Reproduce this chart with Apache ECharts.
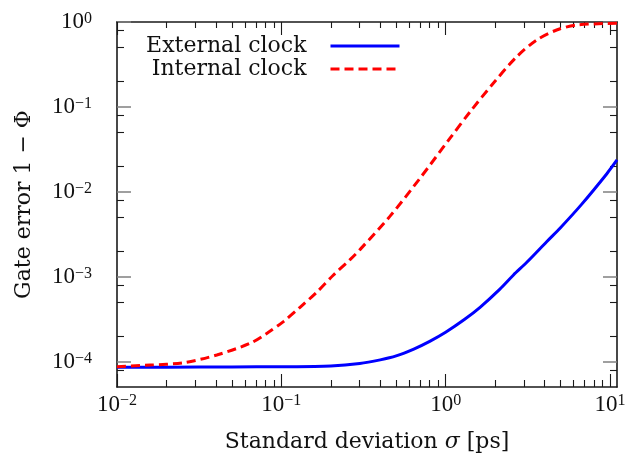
<!DOCTYPE html>
<html>
<head>
<meta charset="utf-8">
<script src="https://cdn.jsdelivr.net/npm/echarts@6/dist/echarts.min.js"></script>
<style>
html,body{margin:0;padding:0;background:#fff;}
#chart{width:636px;height:456px;}
</style>
</head>
<body>
<div id="chart"></div>
<script>
// [sigma in ps, gate error 1 - Phi]
var externalClock = [
    [0.01, 8.7e-5], [0.02, 8.7e-5], [0.05, 8.75e-5], [0.1, 8.8e-5], [0.2, 9.0e-5],
    [0.3, 9.6e-5], [0.4, 1.06e-4], [0.5, 1.18e-4], [0.64, 1.42e-4], [0.8, 1.75e-4],
    [1.0, 2.24e-4], [1.3, 3.16e-4], [1.62, 4.4e-4], [2.14, 7.2e-4], [2.58, 1.05e-3],
    [3.13, 1.5e-3], [4.12, 2.6e-3], [5.0, 3.8e-3], [6.7, 7.1e-3], [9.55, 0.0163],
    [11.04, 0.0238]
];
var internalClock = [
    [0.01, 8.8e-5], [0.0159, 9.2e-5], [0.0254, 9.8e-5], [0.0405, 1.21e-4], [0.0646, 1.66e-4],
    [0.0815, 2.17e-4], [0.103, 2.99e-4], [0.13, 4.4e-4], [0.164, 6.6e-4], [0.207, 1.05e-3],
    [0.262, 1.6e-3], [0.301, 2.1e-3], [0.459, 5.2e-3], [0.698, 0.0145], [1.064, 0.043],
    [1.41, 0.088], [1.95, 0.19], [2.71, 0.391], [3.58, 0.614], [4.74, 0.805],
    [6.28, 0.923], [11.04, 0.964]
];
var legendNames = ['External clock', 'Internal clock'];

var xMajorTicks = [0.01, 0.1, 1, 10];
var xMinorTicks = [0.02, 0.03, 0.04, 0.05, 0.06, 0.07, 0.08, 0.09,
    0.2, 0.3, 0.4, 0.5, 0.6, 0.7, 0.8, 0.9, 2, 3, 4, 5, 6, 7, 8, 9];
var yMajorTicks = [1e-4, 1e-3, 1e-2, 1e-1, 1];
var yMinorTicks = [8e-5, 2e-4, 5e-4, 8e-4, 2e-3, 5e-3, 8e-3, 0.02, 0.05, 0.08, 0.2, 0.5, 0.8];
var xRange = [0.01, 11.04];
var yRange = [5.08e-5, 1];

var chart = echarts.init(document.getElementById('chart'));

function powLabel(v) {
    var e = Math.round(Math.log10(v));
    return '{b|10}{s|' + (e < 0 ? '\u2212' + (-e) : e) + '}';
}

var labelRich = {
    b: {fontFamily: 'Liberation Serif', fontSize: 23, lineHeight: 23, padding: [3, 0, 3, 0], color: '#111'},
    s: {fontFamily: 'Liberation Serif', fontSize: 16, lineHeight: 16, verticalAlign: 'top', color: '#111'}
};
var frameLine = {show: true, onZero: false, lineStyle: {color: '#1a1a1a', width: 1.6}};

function xAxisOf(grid, pos, ticks, len, withLabel) {
    return {
        type: 'log', logBase: 10, gridIndex: grid, position: pos,
        min: xRange[0], max: xRange[1],
        axisLine: grid === 0 ? frameLine : {show: false},
        axisTick: {inside: true, length: len, customValues: ticks, lineStyle: {color: '#1a1a1a', width: 1.1}},
        axisLabel: withLabel ? {customValues: ticks, formatter: powLabel, margin: 6, rich: labelRich} : {show: false},
        splitLine: {show: false}
    };
}
function yAxisOf(grid, pos, ticks, len, color, withLabel) {
    return {
        type: 'log', logBase: 10, gridIndex: grid, position: pos,
        min: yRange[0], max: yRange[1],
        axisLine: grid === 0 ? frameLine : {show: false},
        axisTick: {inside: true, length: len, customValues: ticks, lineStyle: {color: color, width: grid === 0 ? 1.5 : 1.1}},
        axisLabel: withLabel ? {customValues: ticks, formatter: powLabel, margin: 25, rich: labelRich} : {show: false},
        splitLine: {show: false}
    };
}

var xBottom = xAxisOf(0, 'bottom', xMajorTicks, 13, true);
xBottom.name = 'Standard deviation {i|\u03c3} [ps]';
xBottom.nameLocation = 'middle';
xBottom.nameGap = 44;
xBottom.nameTextStyle = {
    fontFamily: 'DejaVu Serif', fontSize: 22, color: '#111',
    rich: {i: {fontFamily: 'DejaVu Serif', fontSize: 22, fontStyle: 'italic', color: '#111'}}
};
var yLeft = yAxisOf(0, 'left', yMajorTicks, 14, '#808080', true);
yLeft.name = 'Gate error 1 \u2212 \u03a6';
yLeft.nameLocation = 'middle';
yLeft.nameGap = 82;
yLeft.nameTextStyle = {fontFamily: 'DejaVu Serif', fontSize: 22, color: '#111'};

var gridBox = {left: 117, right: 19, top: 22, bottom: 69, containLabel: false, outerBoundsMode: 'none'};

chart.setOption({
    animation: false,
    backgroundColor: '#fff',
    grid: [gridBox, gridBox],
    legend: {
        data: legendNames, orient: 'vertical', right: 235, top: 35, align: 'right',
        itemWidth: 69, itemHeight: 14, itemGap: 1, padding: 0, selectedMode: false,
        itemStyle: {opacity: 0},
        lineStyle: {width: 3},
        textStyle: {fontFamily: 'DejaVu Serif', fontSize: 22, color: '#111', padding: [0, 19, 0, 0]}
    },
    xAxis: [
        xBottom,
        xAxisOf(0, 'top', xMajorTicks, 13, false),
        xAxisOf(1, 'bottom', xMinorTicks, 7, false),
        xAxisOf(1, 'top', xMinorTicks, 6, false)
    ],
    yAxis: [
        yLeft,
        yAxisOf(0, 'right', yMajorTicks, 14, '#808080', false),
        yAxisOf(1, 'left', yMinorTicks, 7, '#1a1a1a', false),
        yAxisOf(1, 'right', yMinorTicks, 7, '#1a1a1a', false)
    ],
    series: [{
        name: legendNames[0], type: 'line', xAxisIndex: 0, yAxisIndex: 0,
        data: externalClock, symbol: 'none', showSymbol: false, smooth: 0.3,
        lineStyle: {color: '#0000ff', width: 3},
        itemStyle: {color: '#0000ff'}
    }, {
        name: legendNames[1], type: 'line', xAxisIndex: 0, yAxisIndex: 0,
        data: internalClock, symbol: 'none', showSymbol: false, smooth: 0.3,
        lineStyle: {color: '#ff0000', width: 3, type: [9, 5]},
        itemStyle: {color: '#ff0000'}
    }]
});
</script>
</body>
</html>
